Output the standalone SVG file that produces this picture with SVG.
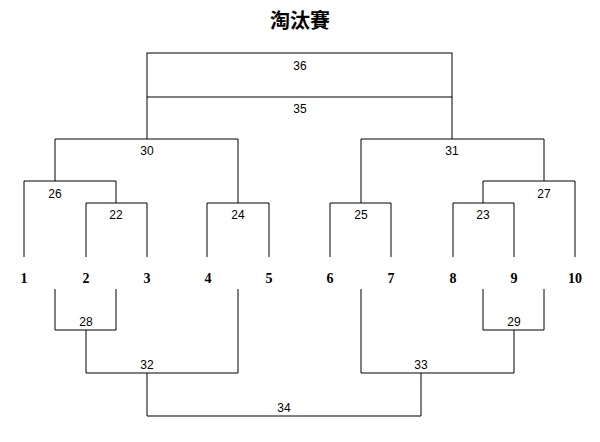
<svg xmlns="http://www.w3.org/2000/svg" width="600" height="442" viewBox="0 0 600 442">
<style>
.l{stroke:#000;stroke-width:1;fill:none}
.t{font-family:"Liberation Sans",Arial,sans-serif;font-size:12px;text-anchor:middle;fill:#000}
.n{font-family:"Liberation Serif","Times New Roman",serif;font-size:14px;font-weight:bold;text-anchor:middle;fill:#000}
.h{font-family:"Liberation Serif","Noto Sans CJK TC",serif;font-size:20px;font-weight:bold;text-anchor:middle}
</style>
<rect width="600" height="442" fill="#fff"/>
<text class="h" x="300" y="28">淘汰賽</text>
<g id="connectors" class="l">
<rect x="147" y="53" width="305" height="44"/>
<path d="M147 97V139M452 97V139"/>
<path d="M55 181V139H238V203"/>
<path d="M24 257V181H116V203"/>
<path d="M86 257V203H147V257"/>
<path d="M207 257V203H269V257"/>
<path d="M361 203V139H544V181"/>
<path d="M330 257V203H391V257"/>
<path d="M483 203V181H575V257"/>
<path d="M453 257V203H514V257"/>
<path d="M55 289V330H116V289"/>
<path d="M86 330V373H238V289"/>
<path d="M147 373V416H421V373"/>
<path d="M361 289V373H514V330"/>
<path d="M483 289V330H544V289"/>
</g>
<g id="labels">
<text class="t" x="300" y="70">36</text>
<text class="t" x="300" y="113">35</text>
<text class="t" x="147" y="155">30</text>
<text class="t" x="452" y="155">31</text>
<text class="t" x="55" y="198">26</text>
<text class="t" x="116" y="219">22</text>
<text class="t" x="238" y="219">24</text>
<text class="t" x="361" y="219">25</text>
<text class="t" x="483" y="219">23</text>
<text class="t" x="544" y="198">27</text>
<text class="t" x="86" y="326">28</text>
<text class="t" x="147" y="369">32</text>
<text class="t" x="284" y="412">34</text>
<text class="t" x="421" y="369">33</text>
<text class="t" x="514" y="326">29</text>
</g>
<g id="nodes">
<g id="n1"><text class="n" x="24" y="283">1</text></g>
<g id="n2"><text class="n" x="86" y="283">2</text></g>
<g id="n3"><text class="n" x="147" y="283">3</text></g>
<g id="n4"><text class="n" x="208" y="283">4</text></g>
<g id="n5"><text class="n" x="269" y="283">5</text></g>
<g id="n6"><text class="n" x="330" y="283">6</text></g>
<g id="n7"><text class="n" x="391" y="283">7</text></g>
<g id="n8"><text class="n" x="453" y="283">8</text></g>
<g id="n9"><text class="n" x="514" y="283">9</text></g>
<g id="n10"><text class="n" x="575" y="283">10</text></g>
</g>
</svg>
